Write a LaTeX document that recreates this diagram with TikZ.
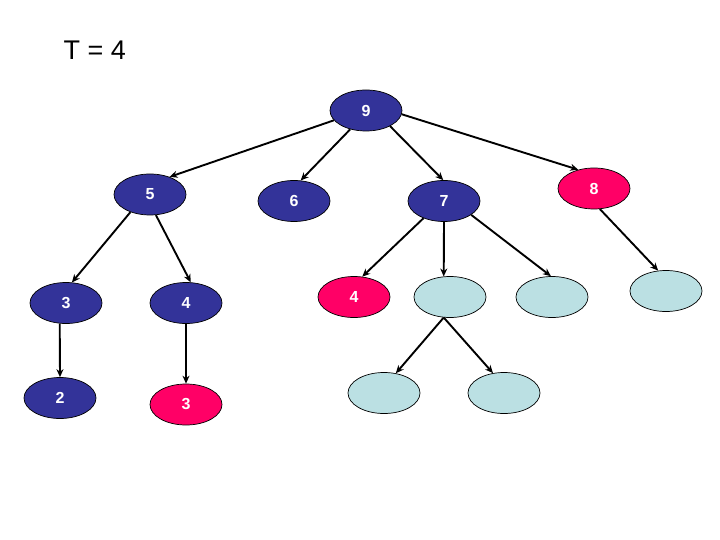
\documentclass[tikz,border=0pt]{standalone}
\usepackage{fontspec}
\setmainfont{Liberation Sans}
\usetikzlibrary{arrows.meta,shapes.geometric}
\definecolor{navy}{RGB}{51,51,153}
\definecolor{hotpink}{RGB}{255,0,102}
\definecolor{pale}{RGB}{187,224,227}
\begin{document}
\begin{tikzpicture}[x=1pt,y=-1pt,
  nd/.style={ellipse,draw=black,line width=0.7pt,minimum width=72pt,minimum height=41pt,inner sep=0pt,
    text=white,font=\fontsize{16}{16}\selectfont\bfseries},
  bl/.style={nd,fill=navy},
  pk/.style={nd,fill=hotpink},
  lb/.style={nd,fill=pale},
  arr/.style={draw=black,line width=1.9pt,-{Stealth[length=8pt,width=7pt]}}]
\useasboundingbox (0,0) rectangle (720,540);
\node[anchor=base west,font=\fontsize{27}{27}\selectfont] (title) at (60,60) {T = 4};
\node[bl] (n9) at (366,110.5) {9};
\node[bl] (n5) at (150,194.5) {5};
\node[bl] (n6) at (294,201) {6};
\node[bl] (n7) at (444,201) {7};
\node[pk] (n8) at (594,188.5) {8};
\node[bl] (n3) at (66,303) {3};
\node[bl] (n4) at (186,303) {4};
\node[pk] (p4) at (354,297) {4};
\node[lb] (l1) at (450,297) {};
\node[lb] (l2) at (552,297) {};
\node[lb] (l3) at (666,291) {};
\node[bl] (n2) at (60,398) {2};
\node[pk] (p3) at (186,404.5) {3};
\node[lb] (l4) at (384,393) {};
\node[lb] (l5) at (504,393) {};
\draw[arr] (n9.197) -- (n5.42);
\draw[arr] (n9.230) -- (n6.72);
\draw[arr] (n9.327) -- (n7.92);
\draw[arr] (n9.354) -- (n8.130);
\draw[arr] (n5.222) -- (n3.74);
\draw[arr] (n5.286) -- (n4.77);
\draw[arr] (n3.253) -- (n2.90);
\draw[arr] (n4.270) -- (p3.90);
\draw[arr] (n7.220) -- (p4.68);
\draw[arr] (n7.270) -- (l1.107);
\draw[arr] (n7.333) -- (l2.93);
\draw[arr] (n8.286) -- (l3.111);
\draw[arr] (l1.253) -- (l4.59);
\draw[arr] (l1.253) -- (l5.119);
\end{tikzpicture}
\end{document}
